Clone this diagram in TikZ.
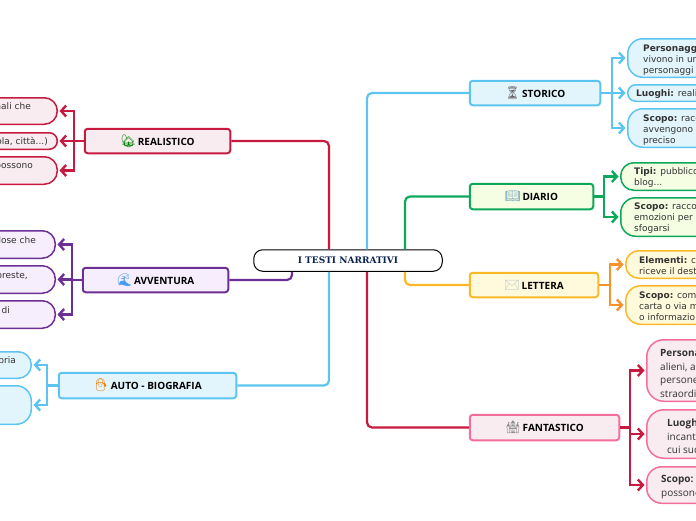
\documentclass[tikz,border=0pt]{standalone}
\usepackage{fontspec}
\setmainfont{DejaVu Sans}
\newfontfamily\labfont{Open Sans}
\newfontfamily\ctrfont{DejaVu Serif}
\newfontfamily\emojifont{Noto Emoji}
\usetikzlibrary{arrows.meta}
\definecolor{crim}{HTML}{C8193F}
\definecolor{pinkb}{HTML}{F56E9B}
\definecolor{rosef}{HTML}{F8ECF1}
\definecolor{purp}{HTML}{6B2F96}
\definecolor{purf}{HTML}{F6EEFC}
\definecolor{sky}{HTML}{5CC4F0}
\definecolor{skyf}{HTML}{E2F4FC}
\definecolor{grn}{HTML}{0EA85A}
\definecolor{grnf}{HTML}{F5FDE3}
\definecolor{amb}{HTML}{FDB827}
\definecolor{ambf}{HTML}{FFFADC}
\definecolor{orng}{HTML}{F7922E}
\definecolor{navy}{HTML}{0B2350}
\definecolor{ink}{HTML}{333333}
\tikzset{
  mainbox/.style={draw=#1,line width=2pt,rounded corners=3pt,inner sep=0pt,align=center},
  leafbox/.style={draw=#1,line width=1.5pt,inner sep=0pt},
  feed/.style={draw=#1,line width=2.2pt,rounded corners=5pt},
  twig/.style={draw=#1,line width=2.4pt,-{Straight Barb[length=5pt,width=11pt,line width=2.4pt]},shorten >=1.5pt},
  mainlabel/.style={font=\labfont\bfseries\fontsize{10}{12}\selectfont,text=black},
  bodytext/.style={anchor=base west,inner sep=0pt,font=\fontsize{9}{11}\selectfont,text=ink},
  bodyright/.style={anchor=base east,inner sep=0pt,font=\fontsize{9}{11}\selectfont,text=ink},
  fanttext/.style={anchor=base west,inner sep=0pt,font=\labfont\fontsize{10}{12}\selectfont,text=ink},
}
% name, x1, y1, x2, y2, extra options, text
\newcommand{\boxat}[7]{%
  \pgfmathsetmacro{\bw}{#4-(#2)}\pgfmathsetmacro{\bh}{#5-(#3)}%
  \pgfmathsetmacro{\bx}{(#2+#4)/2}\pgfmathsetmacro{\by}{(#3+#5)/2}%
  \node[#6,minimum width=\bw pt-1.5pt,minimum height=\bh pt-1.5pt] (#1) at (\bx,\by) {#7};}
\newcommand{\ico}[2]{{\emojifont\fontsize{12.5}{12}\selectfont\color{#1}#2}\,}
\begin{document}
\begin{tikzpicture}[x=1pt,y=-1pt]
\useasboundingbox (0,0) rectangle (696,520);
\clip (0,0) rectangle (696,520);

% centre
\boxat{cen}{253}{249}{443}{272}{draw=black,line width=1pt,rounded corners=9pt,inner sep=0pt,fill=white,font=\ctrfont\bfseries\fontsize{9}{11}\selectfont,text=navy}{I TESTI NARRATIVI}

% main topics
\boxat{rea}{84}{128}{231}{154}{mainbox=crim,fill=rosef,mainlabel}{\ico{green!50!black}{🏡}REALISTICO}
\boxat{avv}{82}{267}{229}{293}{mainbox=purp,fill=purf,mainlabel}{\ico{sky!80!blue}{🌊}AVVENTURA}
\boxat{aut}{58}{372}{237}{399}{mainbox=sky,fill=skyf,mainlabel}{\ico{orange!80!brown}{👦}AUTO - BIOGRAFIA}
\boxat{sto}{469}{80}{601}{106}{mainbox=sky,fill=skyf,mainlabel}{\ico{black!60}{⏳}STORICO}
\boxat{dia}{469}{183}{594}{210}{mainbox=grn,fill=grnf,mainlabel}{\ico{sky!50!gray}{📖}DIARIO}
\boxat{let}{469}{272}{599}{298}{mainbox=amb,fill=ambf,mainlabel}{\ico{sky!30!gray!50}{✉}LETTERA}
\boxat{fan}{469}{414}{620}{441}{mainbox=pinkb,fill=rosef,mainlabel}{\ico{black!45}{🏰}FANTASTICO}

% leaves, left
\boxat{r1}{-60}{97}{58}{125}{leafbox=crim,fill=rosef,rounded corners=13pt}{}
\boxat{r2}{-60}{132}{58}{150}{leafbox=crim,fill=rosef,rounded corners=8pt}{}
\boxat{r3}{-60}{156}{58}{185}{leafbox=crim,fill=rosef,rounded corners=13pt}{}
\boxat{v1}{-60}{230}{56}{259}{leafbox=purp,fill=purf,rounded corners=13pt}{}
\boxat{v2}{-60}{265}{56}{294}{leafbox=purp,fill=purf,rounded corners=13pt}{}
\boxat{v3}{-60}{300}{56}{329}{leafbox=purp,fill=purf,rounded corners=13pt}{}
\boxat{b1}{-60}{351}{32}{379}{leafbox=sky,fill=skyf,rounded corners=13pt}{}
\boxat{b2}{-60}{385}{32}{425}{leafbox=sky,fill=skyf,rounded corners=15pt}{}

% leaves, right
\boxat{s1}{627}{38}{760}{78}{leafbox=sky,fill=skyf,rounded corners=15pt}{}
\boxat{s2}{627}{84}{760}{102}{leafbox=sky,fill=skyf,rounded corners=8pt}{}
\boxat{s3}{627}{108}{760}{148}{leafbox=sky,fill=skyf,rounded corners=15pt}{}
\boxat{d1}{620}{162}{760}{191}{leafbox=grn,fill=grnf,rounded corners=13pt}{}
\boxat{d2}{620}{197}{760}{237}{leafbox=grn,fill=grnf,rounded corners=15pt}{}
\boxat{l1}{625}{250}{760}{279}{leafbox=amb,fill=ambf,rounded corners=13pt}{}
\boxat{l2}{625}{285}{760}{325}{leafbox=amb,fill=ambf,rounded corners=15pt}{}
\boxat{f1}{646}{339}{780}{402}{leafbox=pinkb,fill=rosef,rounded corners=17pt}{}
\boxat{f2}{646}{409}{780}{459}{leafbox=pinkb,fill=rosef,rounded corners=17pt}{}
\boxat{f3}{646}{466}{780}{504}{leafbox=pinkb,fill=rosef,rounded corners=15pt}{}

% centre to topics
\draw[feed=crim] (329,0 |- cen.north) |- (rea.east);
\draw[feed=purp] (292,0 |- cen.south) |- (avv.east);
\draw[feed=sky] (329,0 |- cen.south) |- (aut.east);
\draw[feed=sky] (367,0 |- cen.north) |- (sto.west);
\draw[feed=grn] (405,0 |- cen.north) |- (dia.west);
\draw[feed=amb] (405,0 |- cen.south) |- (let.west);
\draw[feed=crim] (367,0 |- cen.south) |- (fan.west);

% topics to leaves
\foreach \t in {r1,r2,r3} \draw[twig=crim] (rea.west) -- ++(-10,0) |- (\t.east);
\foreach \t in {v1,v2,v3} \draw[twig=purp] (avv.west) -- ++(-10,0) |- (\t.east);
\foreach \t in {b1,b2} \draw[twig=sky] (aut.west) -- ++(-11,0) |- (\t.east);
\foreach \t in {s1,s2,s3} \draw[twig=sky] (sto.east) -- ++(11,0) |- (\t.west);
\foreach \t in {d1,d2} \draw[twig=grn] (dia.east) -- ++(10,0) |- (\t.west);
\foreach \t in {l1,l2} \draw[twig=orng] (let.east) -- ++(11,0) |- (\t.west);
\foreach \t in {f1,f2,f3} \draw[twig=crim] (fan.east) -- ++(10,0) |- (\t.west);

% left texts
\node[bodyright] (tr1) at (31,109) {mali che};
\node[bodyright] (tr2) at (48,144) {ola, città...)};
\node[bodyright] (tr3) at (33,168) {possono};
\node[bodyright] (tv1) at (36,243) {lose che};
\node[bodyright] (tv2) at (28,278) {preste,};
\node[bodyright] (tv3) at (10,313) {di};
\node[bodyright] (tb1) at (16,363) {pria};

% right texts
\node[bodytext] (ts1a) at (643,51) {\textbf{Personaggi}};
\node[bodytext] (ts1b) at (643,62) {vivono in un};
\node[bodytext] (ts1c) at (643,73) {personaggi s};
\node[bodytext] (ts2) at (636,96) {\textbf{Luoghi:} realis};
\node[bodytext] (ts3a) at (643,121) {\textbf{Scopo:} racc};
\node[bodytext] (ts3b) at (643,132) {avvengono};
\node[bodytext] (ts3c) at (643,143) {preciso};
\node[bodytext] (td1a) at (634,174) {\textbf{Tipi:} pubblico};
\node[bodytext] (td1b) at (634,185) {blog...};
\node[bodytext] (td2a) at (634,209) {\textbf{Scopo:} racco};
\node[bodytext] (td2b) at (634,220) {emozioni per};
\node[bodytext] (td2c) at (634,231) {sfogarsi};
\node[bodytext] (tl1a) at (639,263) {\textbf{Elementi:} ch};
\node[bodytext] (tl1b) at (639,274) {riceve il dest};
\node[bodytext] (tl2a) at (639,298) {\textbf{Scopo:} com};
\node[bodytext] (tl2b) at (639,309) {carta o via m};
\node[bodytext] (tl2c) at (639,320) {o informazio};
\node[fanttext] (tf1a) at (660,356) {\textbf{Persona}};
\node[fanttext] (tf1b) at (660,370) {alieni, a};
\node[fanttext] (tf1c) at (660,383) {persone};
\node[fanttext] (tf1d) at (660,397) {straordi};
\node[fanttext] (tf2a) at (667,426) {\textbf{Luogh}};
\node[fanttext] (tf2b) at (667,440) {incanta};
\node[fanttext] (tf2c) at (667,453) {cui suc};
\node[fanttext] (tf3a) at (661,482) {\textbf{Scopo:}};
\node[fanttext] (tf3b) at (661,496) {possono};
\end{tikzpicture}
\end{document}
